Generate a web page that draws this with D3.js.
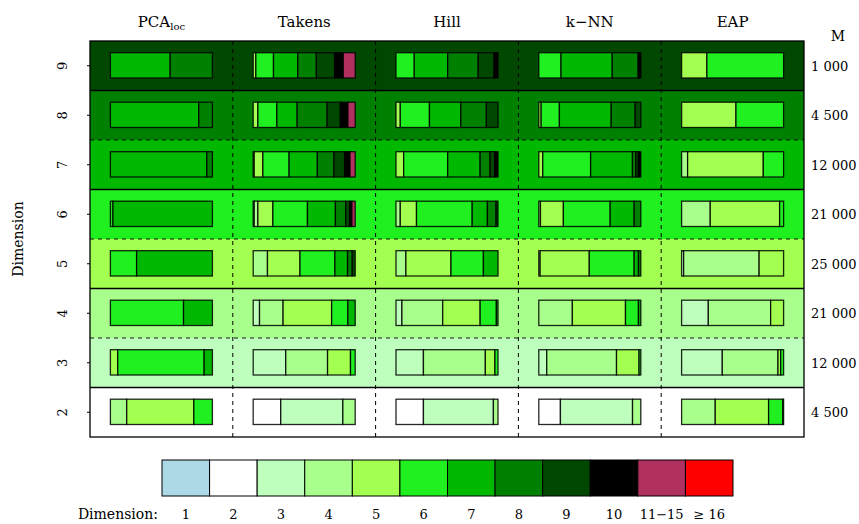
<!DOCTYPE html>
<html>
<head>
<meta charset="utf-8">
<script src="https://cdn.jsdelivr.net/npm/d3@7"></script>
<style>
  html, body { margin: 0; padding: 0; background: #fff; }
  svg { display: block; font-family: "DejaVu Serif", "Liberation Serif", serif; }
</style>
</head>
<body>
<svg id="chart" width="859" height="524"></svg>
<script>
// Estimator names (columns) and true dimensions (rows, top to bottom)
const methods = ["PCA", "Takens", "Hill", "k\u2212NN", "EAP"];
const dims = [9, 8, 7, 6, 5, 4, 3, 2];
const sampleSizes = ["1 000", "4 500", "12 000", "21 000", "25 000", "21 000", "12 000", "4 500"];

// Estimated-dimension classes and their colours
const classLabels = ["1", "2", "3", "4", "5", "6", "7", "8", "9", "10", "11\u221215", "\u2265 16"];
const classColors = ["#ADD8E6", "#FFFFFF", "#BEFFBE", "#A8FF8C", "#A3FF50", "#20F020",
                     "#00B800", "#008000", "#004800", "#000000", "#B03060", "#FF0000"];

// Share of estimates falling in each class; one row per true dimension (9 .. 2)
const pcaShares = [
  [0, 0, 0, 0, 0, 0, .586, .414, 0, 0, 0, 0],
  [0, 0, 0, 0, 0, 0, .866, .134, 0, 0, 0, 0],
  [0, 0, 0, 0, 0, 0, .945, .055, 0, 0, 0, 0],
  [0, 0, 0, 0, 0, .025, .975, 0, 0, 0, 0, 0],
  [0, 0, 0, 0, 0, .257, .743, 0, 0, 0, 0, 0],
  [0, 0, 0, 0, 0, .717, .283, 0, 0, 0, 0, 0],
  [0, 0, 0, 0, .072, .847, .081, 0, 0, 0, 0, 0],
  [0, 0, 0, .160, .658, .182, 0, 0, 0, 0, 0, 0]
];
const takensShares = [
  [0, 0, 0, 0, .026, .173, .238, .182, .179, .085, .117, 0],
  [0, 0, 0, 0, .046, .186, .199, .293, .130, .075, .071, 0],
  [0, 0, 0, .010, .085, .257, .277, .163, .104, .053, .051, 0],
  [0, 0, .010, .036, .147, .339, .274, .101, .039, .022, .032, 0],
  [0, 0, 0, .140, .319, .342, .124, .046, .029, 0, 0, 0],
  [0, 0, .062, .231, .476, .159, .072, 0, 0, 0, 0, 0],
  [0, 0, .319, .410, .225, .046, 0, 0, 0, 0, 0, 0],
  [0, .270, .609, .121, 0, 0, 0, 0, 0, 0, 0, 0]
];
const hillShares = [
  [0, 0, 0, 0, 0, .179, .328, .299, .155, .039, 0, 0],
  [0, 0, 0, 0, .042, .286, .308, .250, .114, 0, 0, 0],
  [0, 0, 0, 0, .075, .432, .318, .097, .046, .032, 0, 0],
  [0, 0, 0, .042, .159, .546, .149, .085, .019, 0, 0, 0],
  [0, 0, 0, .097, .442, .318, .143, 0, 0, 0, 0, 0],
  [0, 0, .058, .400, .367, .159, .016, 0, 0, 0, 0, 0],
  [0, 0, .269, .607, .094, .030, 0, 0, 0, 0, 0, 0],
  [0, .269, .686, .045, 0, 0, 0, 0, 0, 0, 0, 0]
];
const knnShares = [
  [0, 0, 0, 0, 0, .218, .502, .254, .010, .016, 0, 0],
  [0, 0, 0, 0, .023, .179, .508, .235, .055, 0, 0, 0],
  [0, 0, 0, 0, .039, .469, .410, .033, .026, .023, 0, 0],
  [0, 0, 0, .016, .225, .459, .235, .065, 0, 0, 0, 0],
  [0, 0, 0, .013, .482, .440, .042, .023, 0, 0, 0, 0],
  [0, 0, 0, .329, .521, .127, .023, 0, 0, 0, 0, 0],
  [0, 0, .078, .684, .221, .017, 0, 0, 0, 0, 0, 0],
  [0, .212, .707, .081, 0, 0, 0, 0, 0, 0, 0, 0]
];
const eapShares = [
  [0, 0, 0, 0, .248, .752, 0, 0, 0, 0, 0, 0],
  [0, 0, 0, 0, .533, .467, 0, 0, 0, 0, 0, 0],
  [0, 0, 0, .059, .742, .199, 0, 0, 0, 0, 0, 0],
  [0, 0, 0, .281, .680, .039, 0, 0, 0, 0, 0, 0],
  [0, 0, .020, .740, .240, 0, 0, 0, 0, 0, 0, 0],
  [0, 0, .262, .611, .127, 0, 0, 0, 0, 0, 0, 0],
  [0, 0, .399, .546, .026, .029, 0, 0, 0, 0, 0, 0],
  [0, 0, 0, .330, .523, .140, .007, 0, 0, 0, 0, 0]
];
const sharesByMethod = [pcaShares, takensShares, hillShares, knnShares, eapShares];

const svg = d3.select("#chart");
const plot = { left: 90, right: 804, top: 41, bottom: 437 };

const x = d3.scaleBand().domain(methods).range([plot.left, plot.right]);
const y = d3.scaleBand().domain(dims).range([plot.top, plot.bottom]);
const color = d3.scaleOrdinal().domain(classLabels).range(classColors);

// Within a cell: share (0..1) to horizontal offset, and bar band
const barX = d3.scaleLinear().domain([0, 1]).range([20.4, x.bandwidth() - 20.4]);
const barTop = 11.7, barH = 25.3;

// Row backgrounds coloured by the true dimension
svg.append("g").selectAll("rect")
  .data(dims)
  .join("rect")
  .attr("x", plot.left)
  .attr("y", d => y(d))
  .attr("width", plot.right - plot.left)
  .attr("height", y.bandwidth())
  .attr("fill", d => color(String(d)));

// Column separators
svg.append("g").selectAll("line")
  .data(methods.slice(1))
  .join("line")
  .attr("x1", d => x(d)).attr("x2", d => x(d))
  .attr("y1", plot.top).attr("y2", plot.bottom)
  .attr("stroke", "#000").attr("stroke-width", 1)
  .attr("stroke-dasharray", "4,4");

// Row separators
const rowEdges = dims.slice(1).map((d, i) => ({ y: y(d), dashed: i % 2 === 1 }));
svg.append("g").selectAll("line")
  .data(rowEdges)
  .join("line")
  .attr("x1", plot.left).attr("x2", plot.right)
  .attr("y1", d => d.y).attr("y2", d => d.y)
  .attr("stroke", "#000")
  .attr("stroke-opacity", d => d.dashed ? 0.9 : 1)
  .attr("stroke-width", d => d.dashed ? 1 : 1.3)
  .attr("stroke-dasharray", d => d.dashed ? "4,4" : null);

// Stacked share bars
methods.forEach((m, mi) => {
  const rows = sharesByMethod[mi];
  rows.forEach((shares, ri) => {
    const d = dims[ri];
    const g = svg.append("g").attr("transform", `translate(${x(m)},${y(d) + barTop})`);
    let acc = 0;
    const segs = [];
    shares.forEach((v, ci) => {
      if (v > 0) { segs.push({ c: classLabels[ci], x0: acc, x1: acc + v }); acc += v; }
    });
    g.selectAll("rect")
      .data(segs)
      .join("rect")
      .attr("x", s => barX(s.x0))
      .attr("y", 0)
      .attr("width", s => barX(s.x1) - barX(s.x0))
      .attr("height", barH)
      .attr("fill", s => color(s.c))
      .attr("stroke", "#000")
      .attr("stroke-opacity", 0.85)
      .attr("stroke-width", 1.3);
  });
});

// Plot frame
svg.append("rect")
  .attr("x", plot.left).attr("y", plot.top)
  .attr("width", plot.right - plot.left).attr("height", plot.bottom - plot.top)
  .attr("fill", "none").attr("stroke", "#000").attr("stroke-width", 1.3);

// Column titles
const titles = svg.append("g").attr("font-size", 15).attr("text-anchor", "middle");
methods.forEach((m, i) => {
  const t = titles.append("text")
    .attr("x", x(m) + x.bandwidth() / 2)
    .attr("y", 27);
  if (i === 0) {
    t.append("tspan").text("PCA");
    t.append("tspan").attr("font-size", 10).attr("dy", 3).text("loc");
  } else {
    t.text(m);
  }
});

// Left axis: true dimension, labels rotated along the axis
const yAxis = d3.axisLeft(y).tickSize(3).tickSizeOuter(0);
const ya = svg.append("g").attr("transform", `translate(${plot.left},0)`).call(yAxis);
ya.select(".domain").remove();
ya.selectAll(".tick text")
  .attr("x", null).attr("dy", "0.35em")
  .attr("font-family", "DejaVu Serif, serif")
  .attr("font-size", 13)
  .attr("fill", "#000")
  .attr("text-anchor", "middle")
  .attr("transform", "translate(-28,0) rotate(-90)");

svg.append("text")
  .attr("transform", `translate(23,${(plot.top + plot.bottom) / 2}) rotate(-90)`)
  .attr("text-anchor", "middle")
  .attr("font-size", 14)
  .text("Dimension");

// Right side: sample size per row
const right = svg.append("g").attr("font-size", 13);
right.append("text").attr("x", 838).attr("y", 41).attr("text-anchor", "middle").attr("font-size", 14).text("M");
right.selectAll("text.m")
  .data(dims)
  .join("text")
  .attr("class", "m")
  .attr("x", 811)
  .attr("y", d => y(d) + y.bandwidth() / 2 + 5)
  .text((d, i) => sampleSizes[i]);

// Colour legend
const lx = d3.scaleBand().domain(classLabels).range([162, 733]);
const legend = svg.append("g");
legend.selectAll("rect")
  .data(classLabels)
  .join("rect")
  .attr("x", c => lx(c)).attr("y", 460)
  .attr("width", lx.bandwidth()).attr("height", 36)
  .attr("fill", c => color(c))
  .attr("stroke", "#000").attr("stroke-width", 1);
legend.selectAll("text")
  .data(classLabels)
  .join("text")
  .attr("x", c => lx(c) + lx.bandwidth() / 2)
  .attr("y", 519)
  .attr("text-anchor", "middle")
  .attr("font-size", 13)
  .text(c => c);
legend.append("text")
  .attr("x", 158).attr("y", 519)
  .attr("text-anchor", "end")
  .attr("font-size", 14)
  .text("Dimension:");
</script>
</body>
</html>
